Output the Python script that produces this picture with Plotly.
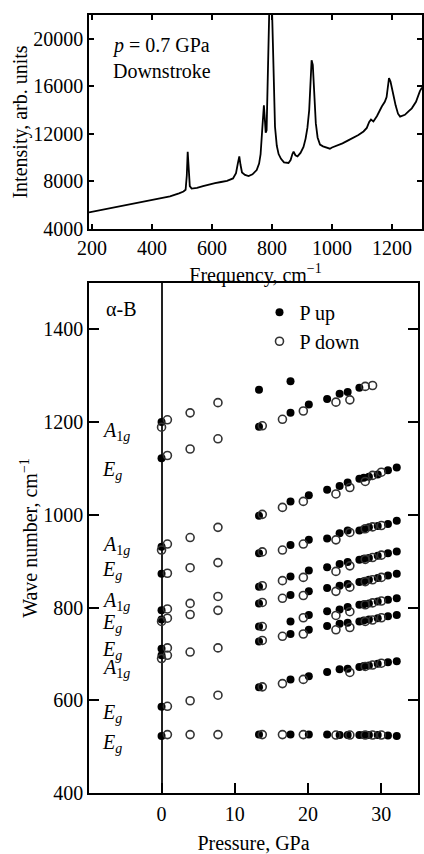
import plotly.graph_objects as go

# ---------------- Top panel: Raman spectrum (p = 0.7 GPa, downstroke) ----------------
spec_freq = [190, 220, 250, 280, 310, 340, 370, 400, 430, 460, 490, 505, 512, 516, 519, 522, 526, 532,
             550, 570, 590, 610, 630, 650, 670, 680, 686, 691, 695, 700, 710, 722, 735, 749, 757, 762,
             767, 770, 773, 776, 779, 782, 786, 791, 796, 800, 803, 806, 810, 816, 822, 830, 840, 855,
             862, 868, 872, 878, 885, 895, 905, 912, 918, 924, 928, 932, 936, 941, 946, 952, 960, 970,
             985, 993, 1000, 1010, 1021, 1035, 1054, 1070, 1088, 1105, 1116, 1124, 1130, 1138, 1150,
             1166, 1176, 1182, 1187, 1190, 1195, 1201, 1207, 1212, 1220, 1227, 1235, 1243, 1255, 1266,
             1280, 1293, 1300]
spec_int = [5400, 5550, 5650, 5800, 5950, 6100, 6250, 6400, 6550, 6750, 7000, 7150, 7300, 8500, 10500,
            8600, 7600, 7400, 7450, 7600, 7750, 7850, 7950, 8050, 8250, 8700, 9500, 10100, 9400, 8750,
            8550, 8450, 8600, 8950, 9500, 10300, 12200, 13200, 14400, 13300, 12100, 12300, 16000, 22500,
            24000, 22500, 19600, 15500, 12600, 11000, 10300, 9900, 9600, 9550, 9800, 10300, 10500, 10200,
            10100, 10400, 10900, 11600, 12500, 14000, 16000, 18200, 17800, 15000, 12900, 11700, 11100,
            10950, 10850, 10750, 10850, 10950, 11050, 11200, 11450, 11650, 11900, 12200, 12500, 13000,
            13200, 13050, 13500, 14300, 14700, 15100, 16000, 16700, 16400, 15800, 15000, 14400, 13700,
            13450, 13550, 13600, 13900, 14150, 14700, 15600, 15900]

spec_xticks = [200, 400, 600, 800, 1000, 1200]
spec_yticks = [4000, 8000, 12000, 16000, 20000]

# ---------------- Bottom panel: mode frequencies vs pressure ----------------
# P up (filled) : column at P = 0
up_p0 = [0, 0, 0, 0, 0, 0, 0, 0, 0, 0]
up_w0 = [1200, 1122, 931, 873, 794, 774, 711, 697, 586, 523]
# P up (filled) : high-pressure columns
up_cols = [13.3, 17.6, 20.1, 22.6, 24.3, 25.4, 27.0, 27.6, 28.3, 29.5, 30.9, 32.1]
up_b1 = [526, 526, 526, 526, 525, 525, 525, 525, 525, 525, 524, 523]
up_b2 = [628, 645, 652, 661, 667, 668, 672, 674, 675, 679, 682, 684]
up_b3 = [727, 743, 752, 760, 765, 767, 770, 772, 774, 777, 781, 784]
up_b4 = [759, 770, 784, 792, 796, 801, 806, 807, 809, 813, 817, 820]
up_b5 = [809, 827, 835, 842, 847, 851, 855, 857, 860, 864, 869, 873]
up_b6 = [845, 867, 880, 887, 894, 898, 903, 905, 907, 912, 917, 921]
up_b7 = [917, 935, 946, 949, 960, 966, 966, 969, 973, 976, 980, 987]
up_b8 = [998, 1029, 1042, 1054, 1062, 1070, 1078, 1080, 1082, 1087, 1096, 1102]
up_b9 = [1190, 1220, 1238, 1250, 1261, 1265, 1274, None, None, None, None, None]
up_b10 = [1270, 1288, None, None, None, None, None, None, None, None, None, None]

# P down (open) : low-pressure columns
down_lo_p = [0, 0, 0, 0,
             0.8, 0.8, 0.8, 0.8, 0.8, 0.8, 0.8, 0.8, 0.8, 0.8,
             3.9, 3.9, 3.9, 3.9, 3.9, 3.9, 3.9, 3.9, 3.9,
             7.7, 7.7, 7.7, 7.7, 7.7, 7.7, 7.7, 7.7, 7.7]
down_lo_w = [1189, 924, 770, 690,
             1205, 1128, 937, 874, 797, 777, 713, 697, 587, 526,
             1220, 1142, 951, 886, 809, 785, 704, 599, 526,
             1242, 1164, 973, 897, 824, 794, 713, 611, 526]
# P down (open) : high-pressure columns
down_cols = [13.75, 16.5, 19.35, 23.8, 25.7, 27.8, 28.8, 30.0]
down_b1 = [526, 526, 526, 525, 525, 525, 525, 525]
down_b2 = [629, 636, 645, None, 660, 673, 676, 680]
down_b3 = [729, 738, 743, 752, 757, 770, 773, 778]
down_b4 = [759, None, 778, 783, 791, 806, 810, 814]
down_b5 = [811, 820, 826, 835, 844, 856, 860, 865]
down_b6 = [847, 858, 865, 878, 890, 904, 908, 913]
down_b7 = [920, 924, 937, 946, 962, 970, 974, 977]
down_b8 = [1001, 1016, 1029, 1045, 1059, 1072, 1085, 1092]
down_b9 = [1192, 1206, 1224, 1243, 1248, 1277, 1279, None]

mode_labels = ["A1g", "Eg", "A1g", "Eg", "A1g", "Eg", "Eg", "A1g", "Eg", "Eg"]
mode_label_w = [1180, 1096, 933, 879, 812, 765, 707, 668, 572, 507]

pressure_ticks = [0, 10, 20, 30]
wave_ticks = [400, 600, 800, 1000, 1200, 1400]


def flatten(cols, branches):
    xs, ys = [], []
    for br in branches:
        for p, w in zip(cols, br):
            if w is not None:
                xs.append(p)
                ys.append(w)
    return xs, ys


up_x, up_y = flatten(up_cols, [up_b1, up_b2, up_b3, up_b4, up_b5, up_b6, up_b7, up_b8, up_b9, up_b10])
up_x = up_p0 + up_x
up_y = up_w0 + up_y
dn_x, dn_y = flatten(down_cols, [down_b1, down_b2, down_b3, down_b4, down_b5, down_b6, down_b7, down_b8, down_b9])
dn_x = down_lo_p + dn_x
dn_y = down_lo_w + dn_y

FONT = "Liberation Serif, Times New Roman, serif"

fig = go.Figure()
fig.add_trace(go.Scatter(x=spec_freq, y=spec_int, mode="lines", line=dict(color="black", width=1.8),
                         xaxis="x", yaxis="y", showlegend=False))
fig.add_trace(go.Scatter(x=up_x, y=up_y, mode="markers", name="P up",
                         marker=dict(symbol="circle", size=8, color="black"),
                         xaxis="x2", yaxis="y2"))
fig.add_trace(go.Scatter(x=dn_x, y=dn_y, mode="markers", name="P down",
                         marker=dict(symbol="circle-open", size=8, color="#333333", line=dict(width=1.6)),
                         xaxis="x2", yaxis="y2"))

axis_common = dict(showline=True, linecolor="black", linewidth=1.5, showgrid=False, zeroline=False,
                   ticks="inside", tickcolor="black", tickwidth=1.5, automargin=False,
                   tickformat="d",
                   tickfont=dict(family=FONT, size=20, color="black"))

annotations = [
    dict(text="<i>p</i> = 0.7 GPa<br>Downstroke", x=433, y=18400, xref="x", yref="y",
         showarrow=False, align="center", font=dict(family=FONT, size=20, color="black")),
    dict(text="α-B", x=-5.5, y=1443, xref="x2", yref="y2", showarrow=False,
         font=dict(family=FONT, size=20, color="black")),
]
for lab, w in zip(mode_labels, mode_label_w):
    if lab == "A1g":
        txt = "<i>A</i><sub>1<i>g</i></sub>"
    else:
        txt = "<i>E</i><sub><i>g</i></sub>"
    annotations.append(dict(text=txt, x=-8.4, y=w, xref="x2", yref="y2", showarrow=False,
                            xanchor="left", yanchor="middle",
                            font=dict(family=FONT, size=20, color="black")))

fig.update_layout(
    width=424, height=854,
    margin=dict(l=89, r=2, t=15, b=61),
    paper_bgcolor="white", plot_bgcolor="white",
    font=dict(family=FONT, size=20, color="black"),
    xaxis=dict(axis_common, domain=[0, 1], anchor="y", range=[190, 1300], tickvals=spec_xticks,
               ticklen=5, mirror="ticks",
               title=dict(text="Frequency, cm<sup>−1</sup>", standoff=10,
                          font=dict(family=FONT, size=20, color="black"))),
    yaxis=dict(axis_common, domain=[0.725, 1], anchor="x", range=[4000, 22000], tickvals=spec_yticks,
               ticklen=5, mirror="ticks",
               title=dict(text="Intensity, arb. units", standoff=0,
                          font=dict(family=FONT, size=20, color="black"))),
    xaxis2=dict(axis_common, domain=[0, 0.988], anchor="y2", range=[-9.9, 35], tickvals=pressure_ticks,
                ticklen=10, mirror=True, zeroline=True, zerolinecolor="#222222", zerolinewidth=1.5,
                ticklabelstandoff=2,
                title=dict(text="Pressure, GPa", standoff=18,
                           font=dict(family=FONT, size=20, color="black"))),
    yaxis2=dict(axis_common, domain=[0, 0.6555], anchor="x2", range=[400, 1500], tickvals=wave_ticks,
                ticklen=10, mirror="ticks",
                title=dict(text="Wave number, cm<sup>−1</sup>", standoff=0,
                           font=dict(family=FONT, size=20, color="black"))),
    legend=dict(x=0.512, y=0.643, xanchor="left", yanchor="top", bgcolor="rgba(0,0,0,0)",
                font=dict(family=FONT, size=20, color="black"), itemwidth=30,
                tracegroupgap=0),
    annotations=annotations,
)

fig.write_html("out.html", config={"displayModeBar": False},
               post_script="document.body.style.margin='0';document.body.style.overflow='hidden';")
